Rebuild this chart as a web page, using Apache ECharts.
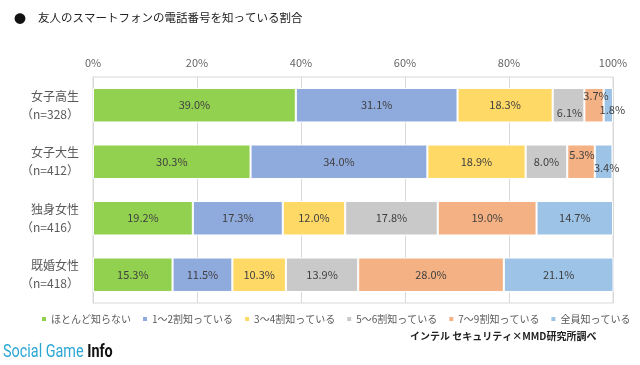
<!DOCTYPE html>
<html><head><meta charset="utf-8">
<script src="https://cdn.jsdelivr.net/npm/echarts@6/dist/echarts.min.js"></script>
<style>html,body{margin:0;padding:0;background:#fff}#c{width:640px;height:365px}</style>
</head><body><div id="c"></div>
<script>
const categories = ['女子高生\n（n=328）', '女子大生\n（n=412）', '独身女性\n（n=416）', '既婚女性\n（n=418）'];
const seriesNames = ['ほとんど知らない', '1～2割知っている', '3～4割知っている', '5～6割知っている', '7～9割知っている', '全員知っている'];
const hardlyKnow = [39.0, 30.3, 19.2, 15.3];
const know1to2 = [31.1, 34.0, 17.3, 11.5];
const know3to4 = [18.3, 18.9, 12.0, 10.3];
const know5to6 = [6.1, 8.0, 17.8, 13.9];
const know7to9 = [3.7, 5.3, 19.0, 28.0];
const knowAll = [1.8, 3.4, 14.7, 21.1];
const xTicks = [0, 20, 40, 60, 80, 100];

const colors = ['#92d050', '#8faadc', '#ffd966', '#c9c9c9', '#f4b183', '#9dc3e6'];
const values = [hardlyKnow, know1to2, know3to4, know5to6, know7to9, knowAll];
// label offset tweaks for small segments [seriesIndex-rowIndex]
const offsets = {
  '3-0': [1, 8], '4-0': [2, -9], '5-0': [4, 5],
  '4-1': [1, -7], '5-1': [3, 6]
};
const FONT = '"Noto Sans CJK JP", "Noto Sans", sans-serif';
const chart = echarts.init(document.getElementById('c'));
const series = values.map((arr, si) => ({
  name: seriesNames[si],
  type: 'bar',
  stack: 'total',
  barWidth: '61%',
  itemStyle: { color: colors[si], borderColor: '#fff', borderWidth: 1 },
  data: arr.map((v, ri) => {
    const o = offsets[si + '-' + ri];
    const d = { value: v };
    if (o) d.label = { offset: o };
    return d;
  }),
  label: {
    show: true, position: 'inside', color: '#404040', fontSize: 11, fontFamily: FONT,
    formatter: p => p.value.toFixed(1) + '%'
  }
}));
chart.setOption({
  animation: false,
  textStyle: { fontFamily: FONT },
  grid: { left: 93, right: 27, top: 77, bottom: 62, show: true, borderColor: '#d9d9d9', borderWidth: 1 },
  xAxis: {
    type: 'value', position: 'top', min: xTicks[0], max: xTicks[xTicks.length - 1], interval: 20,
    axisLabel: { formatter: '{value}%', color: '#666', fontSize: 11, fontFamily: FONT, margin: 9 },
    splitLine: { lineStyle: { color: '#d9d9d9' } },
    axisLine: { show: false }, axisTick: { show: false }
  },
  yAxis: {
    type: 'category', inverse: true, data: categories,
    axisLabel: { color: '#595959', fontSize: 12, lineHeight: 18, fontFamily: FONT, margin: 14, align: 'right' },
    axisLine: { lineStyle: { color: '#d9d9d9' } }, axisTick: { show: false }
  },
  legend: {
    data: seriesNames, left: 35, top: 309, width: 606, itemWidth: 6, itemHeight: 6, itemGap: 10,
    icon: 'rect',
    textStyle: { color: '#595959', fontSize: 10, fontFamily: FONT, padding: [0, 0, 0, -1] }
  },
  graphic: [
    { type: 'text', left: 14, top: 13, style: { text: '●', fill: '#111', font: '12px ' + FONT } },
    { type: 'text', left: 38, top: 12, style: { text: '友人のスマートフォンの電話番号を知っている割合', fill: '#222', font: '11.5px ' + FONT } },
    { type: 'text', left: 410, top: 331, style: { text: 'インテル セキュリティ×MMD研究所調べ', fill: '#222', font: 'bold 10px ' + FONT } },
    {
      type: 'text', x: 3, y: 343, scaleX: 0.8,
      style: {
        text: '{a|Social Game }{b|Info}',
        rich: {
          a: { fill: '#2aa6d5', font: '18px Roboto, sans-serif' },
          b: { fill: '#111', font: 'bold 18px Roboto, sans-serif' }
        }
      }
    }
  ],
  series
});
</script></body></html>
